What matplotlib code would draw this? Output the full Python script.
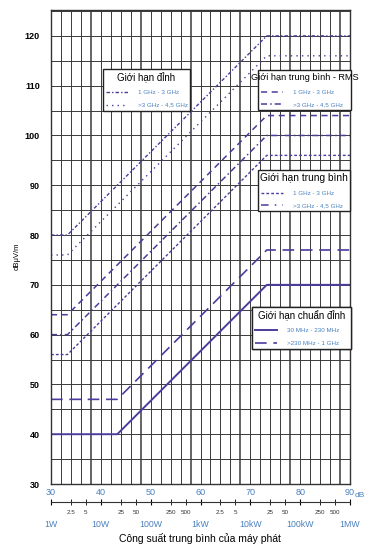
import matplotlib.pyplot as plt
from matplotlib.lines import Line2D

plt.rcParams['font.family'] = ['Liberation Sans', 'DejaVu Sans']

# dữ liệu: công suất (dBm) và giới hạn (dBμV/m)
power_hi = [30, 33.3, 73.3, 90]
power_lo = [30, 43.3, 73.3, 90]

peak_1_3 = [80, 80, 120, 120]
peak_3_45 = [76, 76, 116, 116]
rms_1_3 = [64, 64, 104, 104]
rms_3_45 = [60, 60, 100, 100]
avg_1_3 = [56, 56, 96, 96]
qp_30_230 = [40, 40, 70, 70]
qp_230_1g = [47, 47, 77, 77]

db_ticks = [30, 40, 50, 60, 70, 80, 90]
watt_labels = ["1W", "10W", "100W", "1kW", "10kW", "100kW", "1MW"]
minor_pos = [34, 37, 44, 47, 54, 57, 64, 67, 74, 77, 84, 87]
minor_labels = ["2.5", "5", "25", "50", "250", "500", "2.5", "5", "25", "50", "250", "500"]
y_ticks = [30, 40, 50, 60, 70, 80, 90, 100, 110, 120]

W, H = 369, 552
purple = "#4a3d9c"
blue_txt = "#4a80bc"

fig = plt.figure(figsize=(W / 100, H / 100), dpi=100)
ax = fig.add_axes([51 / W, 1 - 484 / H, 299 / W, 474 / H])

# kiểu đường
st_peak_1_3 = dict(color=purple, lw=1.0, ls=(0, (2.5, 1.5, 1, 1.5)))
st_peak_3_45 = dict(color=purple, lw=1.0, ls=(0, (1, 3)))
st_rms_1_3 = dict(color=purple, lw=1.1, ls=(0, (4, 3)))
st_rms_3_45 = dict(color=purple, lw=1.1, ls=(0, (4, 2, 1, 2)))
st_avg_1_3 = dict(color=purple, lw=1.0, ls=(0, (2, 1.5)))
st_avg_3_45 = dict(color=purple, lw=1.1, ls=(0, (5, 4, 1, 4)))
st_qp_1 = dict(color=purple, lw=1.4, ls="-")
st_qp_2 = dict(color=purple, lw=1.2, ls=(0, (7, 4)))

ax.plot(power_hi, peak_1_3, **st_peak_1_3)
ax.plot(power_hi, peak_3_45, **st_peak_3_45)
ax.plot(power_hi, rms_1_3, **st_rms_1_3)
ax.plot(power_hi, rms_3_45, **st_rms_3_45)
ax.plot(power_hi, avg_1_3, **st_avg_1_3)
ax.plot(power_lo, qp_30_230, **st_qp_1)
ax.plot(power_lo, qp_230_1g, **st_qp_2)

ax.set_xlim(30, 90)
ax.set_ylim(30, 125.2)

# lưới
for v in range(30, 91, 2):
    ax.axvline(v, color="#3a3a3a", lw=1.1 if v % 10 == 8 else 0.7, zorder=0)
for h in range(30, 126, 5):
    ax.axhline(h, color="#3a3a3a", lw=0.7, zorder=0)
for s in ax.spines.values():
    s.set_color("#333333")
    s.set_linewidth(1.0)

ax.set_yticks(y_ticks)
ax.set_yticklabels([str(v) for v in y_ticks], fontsize=6.5, fontweight="bold")
ax.tick_params(axis="y", length=0, pad=8)
ax.set_xticks(db_ticks)
ax.set_xticklabels([str(v) for v in db_ticks], fontsize=6.5, color=blue_txt)
ax.tick_params(axis="x", length=0, pad=3)
ax.text(91.0, 28.3, "dB", fontsize=6, color=blue_txt, va="top", ha="left",
        clip_on=False)
fig.text(17 / W, 1 - 256 / H, "dBμV/m", rotation=90, fontsize=5.5,
         ha="center", va="center")

# trục công suất phía dưới
ax2 = fig.add_axes([51 / W, 1 - 502 / H, 299 / W, 0.0001])
ax2.set_xlim(30, 90)
for k in ["top", "left", "right"]:
    ax2.spines[k].set_visible(False)
ax2.spines["bottom"].set_color("#333333")
ax2.set_yticks([])
ax2.set_xticks(db_ticks)
ax2.set_xticklabels(watt_labels, fontsize=6.3, color=blue_txt)
ax2.set_xticks(minor_pos, minor=True)
ax2.set_xticklabels(minor_labels, minor=True, fontsize=4.5, color="#333333")
ax2.tick_params(which="major", direction="inout", length=5, pad=10.5)
ax2.tick_params(which="minor", direction="inout", length=4, pad=4)

fig.text(200 / W, 1 - 538 / H, "Công suất trung bình của máy phát",
         fontsize=7.5, ha="center", va="center")


def box_legend(title, styles, labels, x0, y0, x1, y1, tsize):
    handles = [Line2D([], [], **s) for s in styles]
    leg = ax.legend(handles, labels, title=title, loc="upper left",
                    bbox_to_anchor=(x0 / W, 1 - y0 / H, (x1 - x0) / W, 0),
                    bbox_transform=fig.transFigure, mode="expand",
                    fontsize=4.5, title_fontproperties={"size": tsize},
                    frameon=True, fancybox=False, edgecolor="#222222",
                    framealpha=1, handlelength=3.4, handletextpad=1.6,
                    borderpad=0.55, labelspacing=1.1, borderaxespad=0)
    leg.get_frame().set_linewidth(1.0)
    for t in leg.get_texts():
        t.set_color(blue_txt)
    ax.add_artist(leg)


box_legend("Giới hạn đỉnh", [st_peak_1_3, st_peak_3_45],
           ["1 GHz - 3 GHz", ">3 GHz - 4,5 GHz"], 103, 69, 190, 109, 7)
box_legend("Giới hạn trung bình - RMS", [st_rms_1_3, st_rms_3_45],
           ["1 GHz - 3 GHz", ">3 GHz - 4,5 GHz"], 258, 70, 351, 111, 6.6)
box_legend("Giới hạn trung bình", [st_avg_1_3, st_avg_3_45],
           ["1 GHz - 3 GHz", ">3 GHz - 4,5 GHz"], 258, 170, 350, 210, 7.3)
box_legend("Giới hạn chuẩn đỉnh", [st_qp_1, st_qp_2],
           ["30 MHz - 230 MHz", ">230 MHz - 1 GHz"], 252, 307, 351, 350, 7)

fig.savefig("out.png", dpi=100)
